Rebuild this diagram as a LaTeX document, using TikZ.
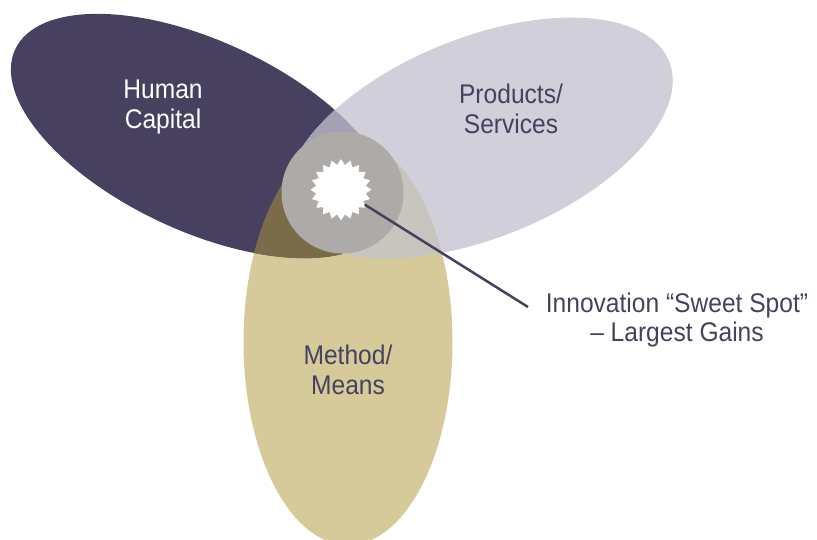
\documentclass[tikz,border=0pt]{standalone}
\usepackage{fontspec}
\setmainfont{Liberation Sans}[FakeStretch=0.91]
\usetikzlibrary{shapes.geometric}

\definecolor{hcap}{RGB}{71,65,95}
\definecolor{prod}{RGB}{209,208,218}
\definecolor{means}{RGB}{214,202,154}
\definecolor{hcapprod}{RGB}{163,161,179}
\definecolor{hcapmeans}{RGB}{122,107,74}
\definecolor{prodmeans}{RGB}{200,197,190}
\definecolor{sweet}{RGB}{174,170,167}

\begin{document}
\begin{tikzpicture}[x=1pt, y=1pt,
    venntext/.style={align=center, font=\fontsize{27}{29.5}\selectfont}]
    \useasboundingbox (0,0) rectangle (817,539);
    \fill[means] (348,197) ellipse [x radius=104.5, y radius=203];
    \fill[hcap] (201,403) ellipse [x radius=205, y radius=95, rotate=-25];
    \fill[prod] (479,401) ellipse [x radius=205, y radius=100, rotate=22];
    % overlaps
    \begin{scope}
        \clip (201,403) ellipse [x radius=205, y radius=95, rotate=-25];
        \fill[hcapprod] (479,401) ellipse [x radius=205, y radius=100, rotate=22];
        \fill[hcapmeans] (348,197) ellipse [x radius=104.5, y radius=203];
    \end{scope}
    \begin{scope}
        \clip (479,401) ellipse [x radius=205, y radius=100, rotate=22];
        \fill[prodmeans] (348,197) ellipse [x radius=104.5, y radius=203];
    \end{scope}
    \fill[sweet] (342.5,346.5) circle [radius=61];
    \node[star, star points=20, star point ratio=1.22, minimum size=61, fill=white, inner sep=0] (spot) at (341,349.3) {};
    \node[venntext, text=white] (human) at (163,432) {Human\\Capital};
    \node[venntext, text=hcap] (prodserv) at (511,430) {Products/\\Services};
    \node[venntext, text=hcap] (method) at (348,169) {Method/\\Means};
    \node[venntext, text=hcap] (gains) at (677,219) {Innovation “Sweet Spot”\\– Largest Gains};
    \coordinate (tip) at (528,232);
    \draw[hcap, line width=2.5] (spot) -- (tip);
\end{tikzpicture}
\end{document}
